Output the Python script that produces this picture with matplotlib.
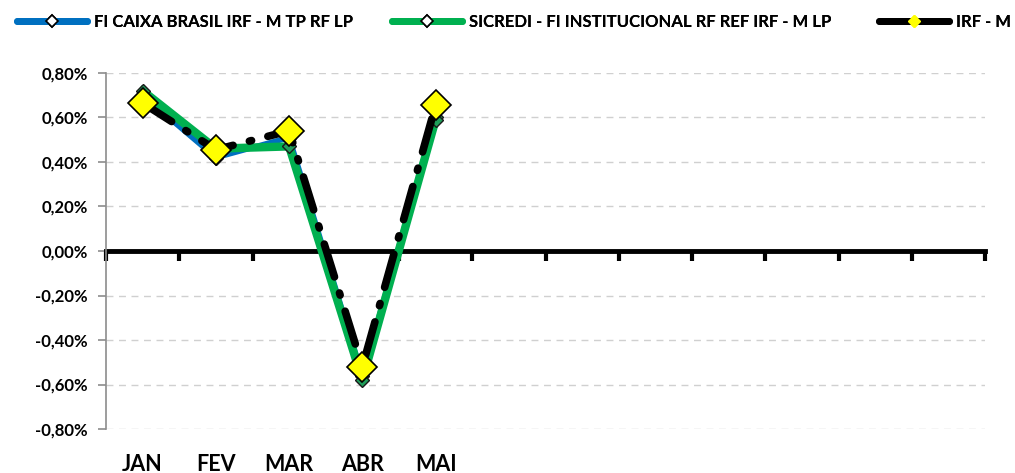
import matplotlib.pyplot as plt
from matplotlib.ticker import FuncFormatter, FixedLocator, NullLocator
from matplotlib.lines import Line2D

plt.rcParams['font.family'] = ['Lato', 'DejaVu Sans']
plt.rcParams['font.weight'] = 'bold'

# data (% per month)
months = ["JAN", "FEV", "MAR", "ABR", "MAI", "", "", "", "", "", "", ""]
caixa = [0.70, 0.42, 0.51, -0.56, 0.60]
sicredi = [0.72, 0.46, 0.47, -0.58, 0.59]
irfm = [0.665, 0.455, 0.54, -0.52, 0.655]
labels = ["FI CAIXA BRASIL IRF - M TP RF LP",
          "SICREDI - FI INSTITUCIONAL RF REF IRF - M LP",
          "IRF - M"]

fig = plt.figure(figsize=(10.15, 4.73), dpi=100)
ax = fig.add_axes([106 / 1015, 1 - 429 / 473, 879 / 1015, 356 / 473])

x = list(range(len(caixa)))
ax.plot(x, caixa, color="#0070c0", lw=4, marker="D", ms=7,
        mfc="#1f9e5a", mec="#1a1a1a", mew=1, zorder=3)
ax.plot(x, sicredi, color="#00b050", lw=6, marker="D", ms=7,
        mfc="#1f9e5a", mec="#1a1a1a", mew=1, zorder=4)
ax.plot(x, irfm, color="black", lw=5.5, dashes=(4.5, 2.2, 0.3, 2.2),
        dash_capstyle="round", marker="D", ms=15, mfc="#ffff00",
        mec="black", mew=1.2, zorder=5)

ax.set_xlim(-0.5, 11.5)
ax.set_ylim(-0.8, 0.8)
ax.set_yticks([-0.8, -0.6, -0.4, -0.2, 0, 0.2, 0.4, 0.6, 0.8])
ax.yaxis.set_major_formatter(FuncFormatter(lambda v, p: f"{v:.2f}%".replace(".", ",")))
ax.grid(axis="y", color="#d0d0d0", ls=(0, (5, 4)), lw=1)
ax.set_axisbelow(True)

for s in ["top", "right"]:
    ax.spines[s].set_visible(False)
ax.spines["left"].set_color("#8c8c8c")
ax.spines["left"].set_linewidth(1.2)
ax.tick_params(axis="y", colors="#8c8c8c", length=6, width=1.2, labelsize=12,
               labelcolor="black", pad=7)

# zero line (bottom spine moved to 0) with ticks on category boundaries
ax.spines["bottom"].set_position(("data", 0))
ax.spines["bottom"].set_linewidth(3.5)
ax.spines["bottom"].set_color("black")
ax.spines["bottom"].set_zorder(2)
ax.xaxis.set_major_locator(FixedLocator([i - 0.5 for i in range(len(months) + 1)]))
ax.xaxis.set_minor_locator(NullLocator())
ax.tick_params(axis="x", direction="out", length=7, width=3, color="black",
               labelbottom=False)

# month labels at the bottom of the plot area
cat = ax.secondary_xaxis("bottom")
cat.spines["bottom"].set_visible(False)
cat.set_xticks(range(len(months)))
cat.set_xticklabels(months, fontsize=15.5, fontweight="bold")
cat.tick_params(axis="x", length=0, pad=18)

handles = [
    Line2D([], [], color="#0070c0", lw=5, solid_capstyle="round", marker="D", ms=6,
           mfc="white", mec="black", mew=1.2),
    Line2D([], [], color="#00b050", lw=5, solid_capstyle="round", marker="D", ms=6,
           mfc="white", mec="black", mew=1.2),
    Line2D([], [], color="black", lw=5, solid_capstyle="round", marker="D", ms=6,
           mfc="#ffff00", mec="#ffff00", mew=1),
]
# legend entries placed like the original (left edges of the handles)
leg_x = [10, 385, 872]
for h, lab, lx in zip(handles, labels, leg_x):
    leg = fig.legend([h], [lab], loc="upper left", bbox_to_anchor=(lx / 1015, 0.985),
                     frameon=False, handlelength=4.2, handletextpad=0.45,
                     borderpad=0.0, borderaxespad=0.4, prop={"weight": "bold", "size": 12})
    fig.add_artist(leg)

fig.savefig("out.png", dpi=100)
